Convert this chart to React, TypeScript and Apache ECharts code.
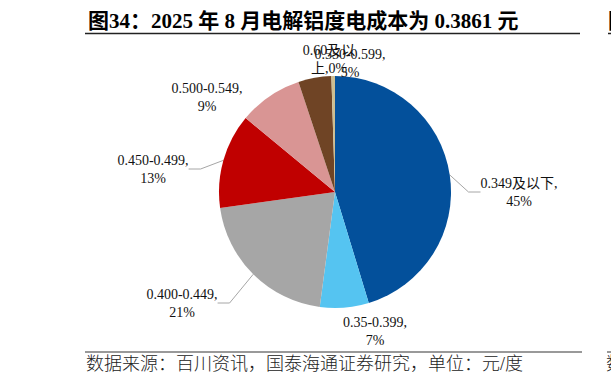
import React, { useEffect, useRef } from 'react';
import * as echarts from 'echarts';

// ---- data ----
const categories = ['0.349及以下', '0.35-0.399', '0.400-0.449', '0.450-0.499', '0.500-0.549', '0.550-0.599', '0.60及以上'];
const shares = [45.3, 6.8, 20.7, 13.2, 8.9, 4.6, 0.5];
const titleText = '图34：2025 年 8 月电解铝度电成本为 0.3861 元';
const sourceText = '数据来源：百川资讯，国泰海通证券研究，单位：元/度';

// ---- styles / layout ----
const sliceColors = ['#03509B', '#55C4F1', '#A6A6A6', '#C00000', '#D99594', '#6F4425', '#CDBE92'];
const labelCenters = [
  [519, 192],
  [375, 331],
  [182, 303],
  [153, 169],
  [207, 97],
  [350, 63],
  [329, 59],
];
const showLeader = [true, false, true, true, false, false, false];
const wrapWidths = [0, 0, 0, 0, 0, 0, 56];

const serif = '"Liberation Serif", "Times New Roman", "Noto Sans CJK SC", serif';

export default function App() {
  const ref = useRef<HTMLDivElement>(null);
  useEffect(() => {
    if (!ref.current) return;
    const chart = echarts.init(ref.current, undefined, { renderer: 'svg' });
    const data = categories.map((name, i) => {
      const item: any = {
        name,
        value: shares[i],
        itemStyle: { color: sliceColors[i] },
        labelLine: { show: showLeader[i] },
      };
      if (wrapWidths[i]) {
        item.label = { formatter: '{b},{d}%', width: wrapWidths[i], overflow: 'break' };
      }
      return item;
    });
    chart.setOption({
      animation: false,
      backgroundColor: '#ffffff',
      graphic: [
        {
          type: 'text',
          x: 88,
          y: 21,
          style: {
            text: titleText,
            fontSize: 21,
            fontWeight: 'bold',
            fontFamily: serif,
            fill: '#000',
            align: 'left',
            verticalAlign: 'middle',
          },
        },
        {
          type: 'line',
          shape: { x1: 85, y1: 33.5, x2: 580, y2: 33.5 },
          style: { stroke: '#222', lineWidth: 1.5 },
        },
        {
          type: 'text',
          x: 608,
          y: 21,
          style: { text: '图', fontSize: 21, fontWeight: 'bold', fontFamily: serif, fill: '#000', verticalAlign: 'middle' },
        },
        {
          type: 'line',
          shape: { x1: 608, y1: 33.5, x2: 611, y2: 33.5 },
          style: { stroke: '#222', lineWidth: 1.5 },
        },
        {
          type: 'line',
          shape: { x1: 85, y1: 352, x2: 582, y2: 352 },
          style: { stroke: '#777', lineWidth: 1.5 },
        },
        {
          type: 'line',
          shape: { x1: 607, y1: 352, x2: 611, y2: 352 },
          style: { stroke: '#777', lineWidth: 1.5 },
        },
        {
          type: 'text',
          x: 86,
          y: 364,
          style: {
            text: sourceText,
            fontSize: 18,
            fontWeight: 300,
            fontFamily: serif,
            fill: '#222',
            align: 'left',
            verticalAlign: 'middle',
          },
        },
        {
          type: 'text',
          x: 606,
          y: 364,
          style: { text: '数', fontSize: 18, fontWeight: 300, fontFamily: serif, fill: '#222', verticalAlign: 'middle' },
        },
      ],
      series: [
        {
          type: 'pie',
          center: [335, 192],
          radius: 116,
          startAngle: 90,
          clockwise: true,
          avoidLabelOverlap: false,
          silent: true,
          percentPrecision: 0,
          itemStyle: { borderWidth: 0 },
          label: {
            show: true,
            position: 'outside',
            alignTo: 'none',
            formatter: '{b},\n{d}%',
            fontSize: 14,
            lineHeight: 18,
            fontFamily: serif,
            color: '#111',
            align: 'center',
          },
          labelLine: {
            show: true,
            length: 10,
            length2: 12,
            lineStyle: { color: '#A6A6A6', width: 1 },
          },
          labelLayout: (params: any) => {
            const c = labelCenters[params.dataIndex];
            return { x: c[0], y: c[1], align: 'center', verticalAlign: 'middle', hideOverlap: false };
          },
          data,
        },
      ],
    });
    return () => chart.dispose();
  }, []);
  return (
    <div
      ref={ref}
      style={{ position: 'fixed', left: 0, top: 0, width: 611, height: 385, background: '#fff' }}
    />
  );
}
